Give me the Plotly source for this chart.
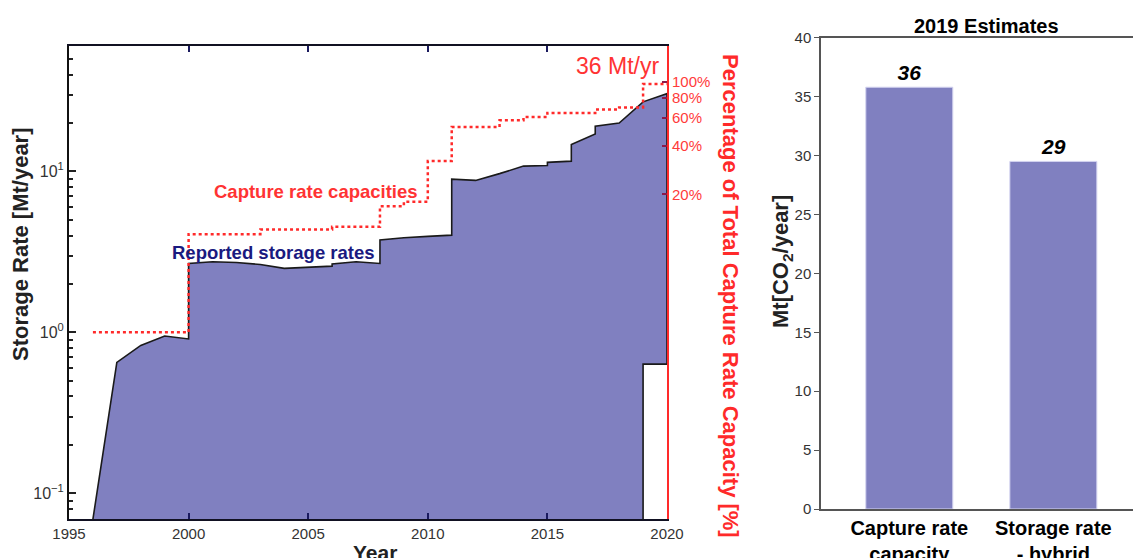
import math
import plotly.graph_objects as go

# ---------------- data ----------------
# Reported storage rates (Mt/yr); repeated years are vertical jumps
storage_years = [1996, 1997, 1998, 1999, 2000, 2000, 2001, 2002, 2003, 2004, 2006, 2006,
                 2007, 2008, 2008, 2009, 2010, 2011, 2011, 2012, 2013, 2014, 2015, 2015,
                 2016, 2016, 2017, 2017, 2018, 2019, 2020]
storage_vals = [0.069, 0.65, 0.83, 0.95, 0.91, 2.68, 2.75, 2.72, 2.64, 2.50, 2.58, 2.66,
                2.75, 2.68, 3.75, 3.87, 3.95, 4.02, 8.96, 8.80, 9.70, 10.8, 10.9, 11.4,
                11.6, 14.7, 17.1, 19.1, 20.0, 27.1, 30.5]
# outline closing part (white notch 2019-2020 in the original figure)
notch_years = [2020, 2019, 2019]
notch_vals = [0.635, 0.635, 0.069]

# Capture rate capacities (Mt/yr), step function
capture_years = [1996, 2000, 2003, 2006, 2008, 2009, 2010, 2011, 2013, 2014, 2015, 2017, 2018, 2019, 2020]
capture_vals = [1.0, 4.08, 4.36, 4.53, 6.09, 6.48, 11.6, 18.9, 20.8, 21.8, 23.1, 24.3, 25.0, 35.0, 35.0]
TOTAL_CAPACITY = 36.0  # Mt/yr
pct_ticks = [20, 40, 60, 80, 100]
pct_labels = ["20%", "40%", "60%", "80%", "100%"]

year_ticks = [1995, 2000, 2005, 2010, 2015, 2020]
log_ticks = [0.1, 1, 10]
log_labels = ["10<sup>−1</sup>", "10<sup>0</sup>", "10<sup>1</sup>"]
log_minor = [0.07, 0.08, 0.09, 0.2, 0.3, 0.4, 0.5, 0.6, 0.7, 0.8, 0.9,
             2, 3, 4, 5, 6, 7, 8, 9, 20, 30, 40, 50, 60]

# 2019 estimates
bar_cats = ["Capture rate<br>capacity", "Storage rate<br>- hybrid"]
bar_vals = [35.8, 29.5]
bar_labels = ["36", "29"]

# ---------------- styling ----------------
W, H = 1133, 558
FONT = "Liberation Sans, Arial, Helvetica, sans-serif"
FILL = "#8080c0"
RED = "#ff2a2a"
NAVY = "#1a1a80"

Y_LOG_RANGE = [-1.16, 1.78]
shift = math.log10(100.0 / TOTAL_CAPACITY)

fig = go.Figure()

fig.add_trace(go.Scatter(
    x=storage_years + notch_years, y=storage_vals + notch_vals,
    mode="lines", fill="toself", fillcolor=FILL,
    line=dict(color="#1a1a1a", width=1.6),
    xaxis="x", yaxis="y", showlegend=False, hoverinfo="skip"))

fig.add_trace(go.Scatter(
    x=[storage_years[0]], y=[storage_vals[0]], mode="markers",
    marker=dict(color="#111133", size=6), cliponaxis=False,
    xaxis="x", yaxis="y", showlegend=False, hoverinfo="skip"))

fig.add_trace(go.Scatter(
    x=capture_years, y=[v / TOTAL_CAPACITY * 100 for v in capture_vals],
    mode="lines", line=dict(color=RED, width=2.5, dash="dot", shape="hv"),
    xaxis="x", yaxis="y2", showlegend=False, hoverinfo="skip"))

fig.add_trace(go.Bar(
    x=bar_cats, y=bar_vals, width=0.604,
    marker=dict(color=FILL, line=dict(color="#d4d4f0", width=1)),
    text=bar_labels, textposition="outside", cliponaxis=False,
    textfont=dict(size=21, color="black", weight="bold", style="italic", family=FONT),
    xaxis="x2", yaxis="y3", showlegend=False, hoverinfo="skip"))

fig.update_layout(
    template="none",
    width=W, height=H,
    margin=dict(l=0, r=0, t=0, b=0, pad=0),
    plot_bgcolor="white", paper_bgcolor="white",
    font=dict(family=FONT, color="#222"),
    xaxis=dict(domain=[69 / W, 667 / W], range=[1995, 2020], anchor="y",
               tickmode="array", tickvals=year_ticks, ticks="inside", ticklen=6,
               tickwidth=1.5, tickcolor="#1a1a5e", showline=True,
               linecolor="#111122", linewidth=2, mirror="ticks", showgrid=False,
               zeroline=False, automargin=False,
               tickfont=dict(size=15, color="#333")),
    yaxis=dict(domain=[1 - 519 / H, 1 - 46 / H], type="log", range=Y_LOG_RANGE,
               anchor="x", tickmode="array", tickvals=log_ticks, ticktext=log_labels,
               ticks="inside", ticklen=7, tickwidth=1.5, tickcolor="#222",
               showline=True, linecolor="#111", linewidth=2, showgrid=False,
               zeroline=False, automargin=False,
               minor=dict(tickmode="array", tickvals=log_minor, ticks="inside",
                          ticklen=4, tickwidth=1.5, tickcolor="#222", showgrid=False),
               tickfont=dict(size=16, color="#333")),
    yaxis2=dict(type="log", overlaying="y", side="right", anchor="x",
                range=[Y_LOG_RANGE[0] + shift, Y_LOG_RANGE[1] + shift],
                tickmode="array", tickvals=pct_ticks, ticktext=pct_labels,
                ticks="inside", ticklen=5, tickwidth=2, tickcolor="#8b1a4a",
                showline=True, linecolor=RED, linewidth=2, showgrid=False,
                zeroline=False, automargin=False,
                tickfont=dict(size=15, color="#ff3b3b")),
    xaxis2=dict(domain=[821 / W, 1.0], anchor="y3", type="category",
                range=[-0.613, 1.553], showline=True, linecolor="#555",
                linewidth=2, mirror=True, ticks="", showgrid=False,
                zeroline=False, automargin=False,
                tickfont=dict(size=20, color="black", weight="bold")),
    yaxis3=dict(domain=[1 - 509 / H, 1 - 37.7 / H], anchor="x2", range=[0, 40],
                tickmode="linear", tick0=0, dtick=5, ticks="outside", ticklen=5,
                tickcolor="#555", showline=True, linecolor="#555", linewidth=1.5,
                showgrid=False, zeroline=False, automargin=False,
                tickfont=dict(size=15, color="#333")),
)

ann = [
    dict(text="<b>Storage Rate [Mt/year]</b>", x=20 / W, y=1 - 244 / H, textangle=-90,
         font=dict(size=22, color="#222")),
    dict(text="<b>Percentage of Total Capture Rate Capacity [%]</b>", x=731 / W,
         y=1 - 296 / H, textangle=90, font=dict(size=22, color=RED)),
    dict(text="<b>Year</b>", x=375 / W, y=1 - 552 / H, font=dict(size=21, color="#222")),
    dict(text="<b>Capture rate capacities</b>", x=316 / W, y=1 - 191 / H,
         font=dict(size=18.5, color="#ff3333")),
    dict(text="<b>Reported storage rates</b>", x=273 / W, y=1 - 252 / H,
         font=dict(size=18.5, color=NAVY)),
    dict(text="36 Mt/yr", x=661 / W, y=1 - 66 / H, xanchor="right",
         font=dict(size=23, color="#ff3333")),
    dict(text="<b>2019 Estimates</b>", x=986 / W, y=1 - 26 / H,
         font=dict(size=20, color="black")),
    dict(text="<b>Mt[CO<sub>2</sub>/year]</b>", x=782 / W, y=1 - 262 / H, textangle=-90,
         font=dict(size=22, color="#222")),
]
for a in ann:
    a.setdefault("xanchor", "center")
    a.update(xref="paper", yref="paper", showarrow=False, yanchor="middle")
fig.update_layout(annotations=ann)

fig.write_html("out.html", config={"displayModeBar": False},
               post_script="document.body.style.margin='0';document.body.style.padding='0';")
